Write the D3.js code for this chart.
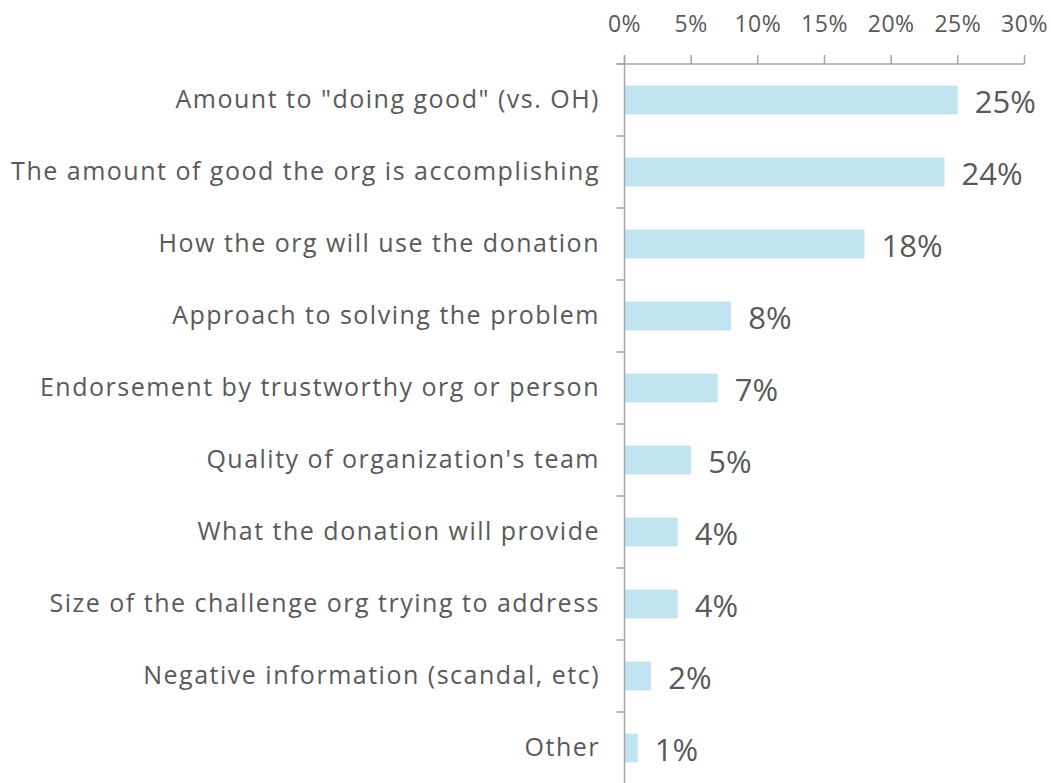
<!DOCTYPE html>
<html lang="en">
<head>
    <meta charset="UTF-8">
    <title>Donation factors</title>
    <script src="https://d3js.org/d3.v7.min.js"></script>
    <style>
        body {
            margin: 0;
            padding: 0;
            background: #fff;
            font-family: "Open Sans", Arial, sans-serif;
        }
        .axis-line {
            stroke: #a6a6a6;
            stroke-width: 1.5px;
        }
        .tick-label {
            fill: #595959;
            font-size: 23px;
            letter-spacing: 0.5px;
        }
        .cat-label {
            fill: #595959;
            font-size: 25px;
            letter-spacing: 1.5px;
        }
        .value-label {
            fill: #595959;
            font-size: 31px;
        }
    </style>
</head>
<body>
    <svg width="1051" height="783"></svg>

    <script>
        // data
        const categories = [
            'Amount to "doing good" (vs. OH)',
            "The amount of good the org is accomplishing",
            "How the org will use the donation",
            "Approach to solving the problem",
            "Endorsement by trustworthy org or person",
            "Quality of organization's team",
            "What the donation will provide",
            "Size of the challenge org trying to address",
            "Negative information (scandal, etc)",
            "Other"
        ];
        const values = [25, 24, 18, 8, 7, 5, 4, 4, 2, 1];
        const tickValues = [0, 5, 10, 15, 20, 25, 30];

        const svg = d3.select("svg");

        const axisY = 64;
        const x = d3.scaleLinear()
            .domain([0, 30])
            .range([624.5, 1024.5]);

        const y = d3.scaleBand()
            .domain(categories)
            .range([axisY, axisY + 720])
            .paddingInner(0.6)
            .paddingOuter(0.3);

        // bars
        svg.append("g")
            .selectAll("rect")
            .data(values)
            .enter().append("rect")
            .attr("x", x(0))
            .attr("y", (d, i) => y(categories[i]))
            .attr("width", d => x(d) - x(0))
            .attr("height", y.bandwidth())
            .attr("fill", "#c1e4f0");

        // top axis line + ticks (ticks point up)
        const g = svg.append("g");
        g.append("line")
            .attr("class", "axis-line")
            .attr("x1", x(0) - 8).attr("x2", x(30))
            .attr("y1", axisY).attr("y2", axisY);

        g.selectAll(".xtick")
            .data(tickValues)
            .enter().append("line")
            .attr("class", "axis-line")
            .attr("x1", d => x(d)).attr("x2", d => x(d))
            .attr("y1", axisY - 9).attr("y2", axisY);

        g.selectAll(".tick-label")
            .data(tickValues)
            .enter().append("text")
            .attr("class", "tick-label")
            .attr("x", d => x(d))
            .attr("y", 32)
            .attr("text-anchor", "middle")
            .text(d => d + "%");

        // vertical category axis
        g.append("line")
            .attr("class", "axis-line")
            .attr("x1", x(0)).attr("x2", x(0))
            .attr("y1", axisY - 9).attr("y2", 783);

        const boundaries = d3.range(categories.length + 1).map(i => axisY + i * y.step());
        g.selectAll(".ytick")
            .data(boundaries)
            .enter().append("line")
            .attr("class", "axis-line")
            .attr("x1", x(0) - 8).attr("x2", x(0))
            .attr("y1", d => d).attr("y2", d => d);

        // category labels
        svg.append("g")
            .selectAll("text")
            .data(categories)
            .enter().append("text")
            .attr("class", "cat-label")
            .attr("x", 600)
            .attr("y", d => y(d) + y.bandwidth() / 2)
            .attr("dy", "0.3em")
            .attr("text-anchor", "end")
            .text(d => d);

        // value labels
        svg.append("g")
            .selectAll("text")
            .data(values)
            .enter().append("text")
            .attr("class", "value-label")
            .attr("x", d => x(d) + 17)
            .attr("y", (d, i) => y(categories[i]) + y.bandwidth() / 2 + 2)
            .attr("dy", "0.35em")
            .text(d => d + "%");
    </script>
</body>
</html>
